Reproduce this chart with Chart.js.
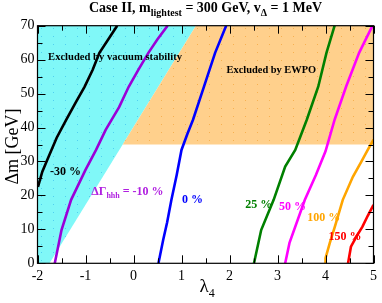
<!DOCTYPE html>
<html>
<head>
<meta charset="utf-8">
<script src="https://cdn.jsdelivr.net/npm/chart.js@4/dist/chart.umd.min.js"></script>
<style>
html,body{margin:0;padding:0;background:#fff;}
#wrap{width:382px;height:303px;position:relative;}
</style>
</head>
<body>
<div id="wrap"><canvas id="c" width="382" height="303"></canvas></div>
<script>
// ---- data ----
const xTicks = [-2, -1, 0, 1, 2, 3, 4, 5];
const yTicks = [0, 10, 20, 30, 40, 50, 60, 70];
const vacuumRegion = [[-2, 0], [-1.75, 0], [1.3, 70], [-2, 70]];
const ewpoRegion = [[-0.225, 35], [1.3, 70], [5, 70], [5, 35]];
const curveMinus30 = [[-1.99, 22.5], [-1.9, 27], [-1.78, 31], [-1.6, 37], [-1.4, 42.3], [-1.2, 47.5], [-1.02, 52], [-0.85, 57], [-0.71, 62], [-0.5, 66.5], [-0.34, 70]];
const curveMinus10 = [[-1.64, 0], [-1.5, 9.8], [-1.3, 18.7], [-1.0, 27.5], [-0.78, 33.4], [-0.58, 39.3], [-0.3, 46], [-0.1, 52], [0.1, 57], [0.31, 62], [0.5, 66], [0.71, 70]];
const curve0 = [[0.52, 0], [0.62, 7], [0.7, 12], [0.79, 18.7], [0.9, 26], [1.0, 33.4], [1.12, 38], [1.24, 42.3], [1.47, 52.1], [1.7, 62], [1.93, 70]];
const curve25 = [[2.51, 0], [2.66, 9.8], [2.92, 18.7], [3.16, 28.5], [3.37, 33.4], [3.61, 42.3], [3.85, 52.1], [4.02, 62], [4.19, 70]];
const curve50 = [[3.16, 0], [3.25, 6], [3.57, 18.7], [3.8, 26], [4.0, 33], [4.19, 42.3], [4.43, 52.1], [4.7, 62], [4.98, 70]];
const curve100 = [[4.0, 0], [4.0, 1.5], [4.09, 6], [4.2, 11], [4.36, 18.7], [4.57, 25.5], [4.75, 30], [4.88, 33.4], [5.0, 36.4]];
const curve150 = [[4.47, 0], [4.53, 4.9], [4.65, 8], [4.77, 10.8], [4.88, 14], [5.0, 17.2]];
const curveLabels = ['-30 %', '-10 %', '0 %', '25 %', '50 %', '100 %', '150 %'];

const SERIF = '"Liberation Serif","Times New Roman",serif';
const toXY = arr => arr.map(p => ({x: p[0], y: p[1]}));

function dotPattern(bg, dot) {
  const c = document.createElement('canvas');
  c.width = 12; c.height = 8;
  const g = c.getContext('2d');
  g.fillStyle = bg; g.fillRect(0, 0, 12, 8);
  g.fillStyle = dot; g.fillRect(5, 4, 1, 1);
  return g.createPattern(c, 'repeat');
}

function lineDs(data, color) {
  return {data: toXY(data), borderColor: color, borderWidth: 2.6, pointRadius: 0, fill: false, tension: 0, showLine: true};
}

const decor = {
  id: 'decor',
  afterDatasetsDraw(chart) {
    const ctx = chart.ctx, xs = chart.scales.x, ys = chart.scales.y, a = chart.chartArea;
    ctx.save();
    // frame
    ctx.strokeStyle = '#000'; ctx.lineWidth = 1.2;
    ctx.strokeRect(a.left, a.top, a.right - a.left, a.bottom - a.top);
    // inward ticks
    ctx.lineWidth = 1;
    ctx.beginPath();
    for (let v = xTicks[0]; v <= xTicks[xTicks.length - 1] + 1e-9; v += 0.5) {
      const px = Math.round(xs.getPixelForValue(v)) + 0.5;
      const len = Math.abs(v - Math.round(v)) < 1e-9 ? 8 : 5;
      ctx.moveTo(px, a.bottom); ctx.lineTo(px, a.bottom - len);
      ctx.moveTo(px, a.top); ctx.lineTo(px, a.top + len);
    }
    for (let v = yTicks[0]; v <= yTicks[yTicks.length - 1] + 1e-9; v += 5) {
      const py = Math.round(ys.getPixelForValue(v)) + 0.5;
      const len = v % 10 === 0 ? 8 : 5;
      ctx.moveTo(a.left, py); ctx.lineTo(a.left + len, py);
      ctx.moveTo(a.right, py); ctx.lineTo(a.right - len, py);
    }
    ctx.stroke();

    // region and curve labels
    ctx.textBaseline = 'middle'; ctx.textAlign = 'left';
    const put = (txt, x, y, color, size) => {
      ctx.fillStyle = color;
      ctx.font = 'bold ' + size + 'px ' + SERIF;
      ctx.fillText(txt, xs.getPixelForValue(x), ys.getPixelForValue(y));
    };
    put('Excluded by vacuum stability', -1.78, 60.8, '#000', 10.6);
    put('Excluded by EWPO', 1.94, 56.8, '#000', 10.4);
    put(curveLabels[0], -1.74, 27.0, '#000', 12);
    // ΔΓ_hhh = -10 %
    {
      let px = xs.getPixelForValue(-0.88), py = ys.getPixelForValue(21.1);
      ctx.fillStyle = '#B020E0';
      ctx.font = 'bold 12px ' + SERIF;
      ctx.fillText('\u0394\u0393', px, py); px += ctx.measureText('\u0394\u0393').width;
      ctx.font = 'bold 8px ' + SERIF;
      ctx.fillText('hhh', px, py + 4); px += ctx.measureText('hhh').width;
      ctx.font = 'bold 12px ' + SERIF;
      ctx.fillText(' = ' + curveLabels[1], px, py);
    }
    put(curveLabels[2], 1.01, 18.7, '#0000FF', 12);
    put(curveLabels[3], 2.33, 17.2, '#008000', 12);
    put(curveLabels[4], 3.03, 16.6, '#FF00FF', 12);
    put(curveLabels[5], 3.62, 13.4, '#FFA500', 12);
    put(curveLabels[6], 4.06, 7.8, '#FF0000', 12);

    // title with subscripts
    ctx.fillStyle = '#000'; ctx.textBaseline = 'alphabetic';
    const parts = [['Case II, m', 14, 0], ['lightest', 10, 4], [' = 300 GeV, v', 14, 0], ['\u0394', 10, 4], [' = 1 MeV', 14, 0]];
    let w = 0;
    parts.forEach(p => { ctx.font = 'bold ' + p[1] + 'px ' + SERIF; w += ctx.measureText(p[0]).width; });
    let tx = (a.left + a.right) / 2 - w / 2;
    parts.forEach(p => { ctx.font = 'bold ' + p[1] + 'px ' + SERIF; ctx.fillText(p[0], tx, 12 + p[2]); tx += ctx.measureText(p[0]).width; });

    // x axis title λ4
    ctx.font = '19px ' + SERIF;
    let lx = (a.left + a.right) / 2 - 6;
    ctx.fillText('\u03bb', lx, 292);
    lx += ctx.measureText('\u03bb').width;
    ctx.font = '12px ' + SERIF;
    ctx.fillText('4', lx, 297);

    // y axis title
    ctx.save();
    ctx.translate(18, (a.top + a.bottom) / 2 + 2);
    ctx.rotate(-Math.PI / 2);
    ctx.textAlign = 'center';
    ctx.font = '18px ' + SERIF;
    ctx.fillText('\u0394m [GeV]', 0, 0);
    ctx.restore();
    ctx.restore();
  }
};

new Chart(document.getElementById('c'), {
  type: 'scatter',
  data: {
    datasets: [
      lineDs(curveMinus30, '#000000'),
      lineDs(curveMinus10, '#9A00D8'),
      lineDs(curve0, '#0000FF'),
      lineDs(curve25, '#008000'),
      lineDs(curve50, '#FF00FF'),
      lineDs(curve100, '#FFA500'),
      lineDs(curve150, '#FF0000'),
      {data: toXY(ewpoRegion), showLine: true, borderWidth: 0, borderColor: 'rgba(0,0,0,0)', pointRadius: 0, fill: 'shape', backgroundColor: dotPattern('#FFD08C', '#F6B050'), tension: 0},
      {data: toXY(vacuumRegion), showLine: true, borderWidth: 0, borderColor: 'rgba(0,0,0,0)', pointRadius: 0, fill: 'shape', backgroundColor: dotPattern('#80F8F8', '#50D0F0'), tension: 0}
    ]
  },
  options: {
    responsive: false,
    animation: false,
    events: [],
    layout: {padding: {left: 0, right: 4.3, top: 25.7, bottom: 0}},
    plugins: {legend: {display: false}, tooltip: {enabled: false}, title: {display: false}},
    scales: {
      x: {
        type: 'linear', min: -2, max: 5,
        afterFit: s => { s.height = 39.7; },
        afterBuildTicks: s => { s.ticks = xTicks.map(v => ({value: v})); },
        grid: {display: false, drawTicks: false},
        border: {display: false},
        ticks: {padding: 5, color: '#000', font: {family: SERIF, size: 14}, maxRotation: 0, callback: v => String(v)}
      },
      y: {
        type: 'linear', min: 0, max: 70,
        afterFit: s => { s.width = 37.5; },
        afterBuildTicks: s => { s.ticks = yTicks.map(v => ({value: v})); },
        grid: {display: false, drawTicks: false},
        border: {display: false},
        ticks: {padding: 3, color: '#000', font: {family: SERIF, size: 14}, callback: v => String(v)}
      }
    }
  },
  plugins: [decor]
});
</script>
</body>
</html>
